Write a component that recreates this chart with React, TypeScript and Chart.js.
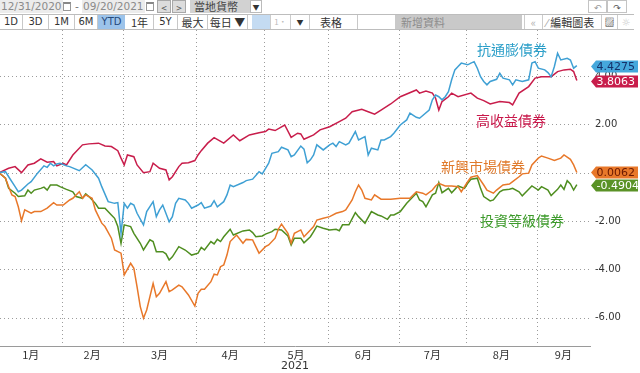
import React, { useEffect, useRef } from 'react';
import { Chart, registerables } from 'chart.js';

Chart.register(...registerables);

// ---- data (x = trading-day index since 12/31/2020, y = cumulative return %) ----
const seriesNames = ['抗通膨債券', '高收益債券', '新興市場債券', '投資等級債券'];
const monthLabels = ['1月', '2月', '3月', '4月', '5月', '6月', '7月', '8月', '9月'];
const monthStartDays = [20, 39, 62, 83, 103, 125, 146, 168];
const yTickValues = [-6, -4, -2, 0, 2, 4];

const tipsSeries: [number, number][] = [
  [0, 0], [2, 0.04], [3, -0.17], [5, -0.58], [6, -0.79], [7, -0.72], [9, -0.47], [10, -0.37], [12, -0.02], [14, 0.28],
  [15, 0.22], [16, 0.39], [17, 0.28], [18, 0.36], [19, 0.39], [21, 0.28], [22, 0.25], [25, 0.08], [27, 0.33], [29, 0.11],
  [31, -0.23], [32, -0.58], [34, -1.2], [36, -1.27], [37, -1.24], [38, -2.51], [39, -1.27], [40, -1.47], [41, -1.27], [42, -1.34],
  [43, -1.68], [45, -2.16], [46, -1.61], [48, -1.2], [49, -1.82], [50, -1.54], [51, -1.34], [53, -2.03], [54, -1.82], [55, -1.27],
  [56, -1.06], [58, -1.13], [59, -1.27], [60, -1.47], [62, -1.34], [63, -1.24], [64, -1.47], [66, -1.38], [67, -1.16], [68, -1.41],
  [70, -1.2], [71, -0.92], [72, -0.51], [73, -0.58], [76, -0.41], [77, -0.33], [79, -0.27], [81, 0.04], [82, -0.05], [84, 0.39],
  [85, 0.8], [87, 0.87], [88, 1.05], [90, 0.94], [91, 0.66], [92, 0.73], [94, 1.1], [95, 0.97], [96, 0.41], [97, 0.53],
  [98, 0.73], [99, 1.15], [101, 0.94], [103, 1.15], [104, 1.22], [105, 1.08], [106, 1.28], [108, 1.15], [109, 1.22], [111, 1.7],
  [112, 1.35], [114, 1.49], [115, 0.73], [116, 1.01], [118, 0.94], [119, 1.35], [120, 1.35], [122, 1.49], [123, 1.63], [125, 1.97],
  [127, 2.18], [128, 2.46], [130, 2.29], [131, 2.25], [134, 2.59], [135, 3.01], [136, 3.21], [137, 3.14], [138, 3.01], [139, 3.14],
  [140, 3.35], [141, 3.84], [142, 4.25], [143, 4.39], [144, 4.53], [146, 4.46], [147, 4.53], [148, 4.59], [149, 4.32], [150, 3.97],
  [151, 3.77], [152, 3.63], [153, 3.77], [155, 3.86], [156, 4.11], [157, 3.91], [159, 3.84], [160, 3.63], [161, 3.84], [163, 3.77],
  [165, 3.84], [166, 4.53], [167, 4.59], [168, 4.32], [170, 4.25], [171, 4.14], [172, 3.97], [173, 4.39], [174, 4.94], [175, 4.66],
  [177, 4.73], [178, 4.66], [179, 4.32], [180, 4.4275],
];

const highYieldSeries: [number, number][] = [
  [0, 0], [3, 0.18], [5, 0.25], [7, 0.0], [9, 0.32], [11, 0.39], [13, 0.57], [15, 0.43], [17, 0.46], [18, 0.28],
  [20, 0.39], [21, 0.32], [23, 0.73], [26, 1.15], [28, 1.19], [31, 1.22], [33, 1.1], [35, 1.08], [37, 0.91], [38, 0.6],
  [39, 0.32], [40, 0.73], [42, 0.66], [43, 0.32], [45, 0.0], [47, 0.04], [48, 0.39], [50, 0.18], [52, 0.11], [53, -0.3],
  [54, -0.17], [56, 0.25], [57, 0.39], [59, 0.41], [61, 0.5], [62, 0.73], [63, 0.91], [65, 1.22], [67, 1.45], [70, 1.22],
  [73, 1.56], [75, 1.32], [78, 1.56], [81, 1.65], [83, 1.7], [84, 1.8], [86, 1.74], [89, 1.97], [91, 1.46], [93, 1.63],
  [94, 1.6], [95, 1.38], [98, 1.56], [100, 1.77], [103, 1.9], [106, 2.11], [108, 2.25], [110, 2.52], [113, 2.62], [115, 2.52],
  [117, 2.42], [119, 2.59], [122, 2.84], [125, 3.14], [130, 3.42], [131, 3.29], [133, 3.38], [135, 3.29], [136, 3.08], [137, 2.59],
  [138, 2.94], [140, 3.14], [141, 3.29], [143, 3.14], [147, 3.29], [149, 3.08], [151, 2.98], [153, 2.84], [156, 2.94], [159, 2.9],
  [160, 2.8], [162, 3.29], [165, 3.56], [167, 3.91], [169, 3.97], [172, 3.97], [174, 4.18], [176, 4.25], [178, 4.28], [179, 4.18],
  [180, 3.8063],
];

const emergingSeries: [number, number][] = [
  [0, 0], [2, -0.23], [3, -0.58], [4, -0.92], [5, -0.99], [6, -1.41], [7, -1.99], [8, -1.54], [10, -1.68], [11, -1.61],
  [13, -1.61], [15, -1.47], [17, -1.24], [18, -1.34], [20, -1.34], [22, -1.13], [23, -1.06], [25, -0.79], [26, -1.06], [27, -0.92],
  [29, -1.06], [30, -1.54], [32, -2.09], [33, -2.23], [35, -2.71], [36, -3.2], [38, -3.33], [39, -4.23], [41, -3.75], [42, -3.96],
  [43, -4.72], [44, -5.54], [45, -6.02], [46, -5.68], [48, -4.58], [49, -5.13], [50, -4.99], [52, -4.51], [53, -4.92], [54, -4.85],
  [56, -4.65], [57, -4.72], [59, -5.06], [61, -5.52], [62, -4.99], [63, -4.82], [64, -4.82], [66, -4.51], [67, -4.2], [68, -4.23],
  [69, -3.89], [70, -3.82], [71, -3.41], [72, -2.85], [74, -2.58], [76, -2.92], [77, -2.76], [79, -2.78], [80, -3.06], [81, -3.33],
  [83, -3.06], [84, -2.99], [86, -2.71], [87, -2.34], [88, -2.13], [90, -2.51], [91, -2.92], [92, -2.51], [94, -2.37], [95, -2.65],
  [97, -2.37], [98, -2.23], [99, -1.96], [101, -1.89], [103, -1.82], [105, -1.68], [107, -1.61], [108, -1.54], [110, -1.13], [111, -0.79],
  [112, -0.51], [113, -0.72], [114, -1.06], [116, -1.13], [117, -0.92], [119, -1.1], [122, -1.1], [125, -1.06], [128, -1.06], [130, -0.79],
  [132, -0.85], [133, -0.92], [135, -0.72], [136, -0.55], [137, -0.44], [139, -0.55], [141, -0.55], [143, -0.58], [144, -0.79], [146, -0.37],
  [147, -0.19], [149, -0.12], [151, -0.51], [152, -0.72], [154, -0.85], [155, -0.72], [157, -0.51], [159, -0.47], [160, -0.37], [162, -0.17],
  [163, -0.05], [165, -0.02], [166, 0.32], [168, 0.6], [169, 0.69], [171, 0.6], [173, 0.5], [175, 0.6], [176, 0.73], [178, 0.55],
  [179, 0.32], [180, 0.0062],
];

const investmentGradeSeries: [number, number][] = [
  [0, 0], [2, -0.23], [3, -0.65], [5, -0.85], [6, -0.99], [8, -0.96], [9, -0.72], [10, -0.85], [11, -0.72], [13, -0.65],
  [14, -0.6], [15, -0.72], [16, -0.51], [18, -0.51], [19, -0.58], [21, -0.69], [23, -0.79], [24, -0.99], [26, -1.06], [27, -0.88],
  [28, -0.99], [30, -1.27], [31, -1.47], [33, -1.47], [35, -1.75], [36, -1.89], [37, -2.23], [38, -2.92], [39, -2.16], [41, -2.23],
  [42, -2.51], [44, -2.92], [45, -3.2], [47, -2.78], [48, -2.85], [49, -3.27], [51, -3.27], [52, -3.36], [53, -3.61], [54, -3.48],
  [56, -3.06], [58, -3.2], [60, -3.41], [62, -3.33], [63, -3.09], [64, -3.2], [66, -2.85], [67, -2.95], [68, -2.76], [69, -2.85],
  [70, -2.65], [72, -2.34], [73, -2.58], [76, -2.41], [78, -2.37], [79, -2.48], [80, -2.65], [82, -2.62], [83, -2.54], [85, -2.44],
  [86, -2.34], [88, -2.37], [90, -2.62], [91, -2.99], [92, -2.71], [94, -2.71], [95, -2.9], [97, -2.65], [98, -2.44], [99, -2.21],
  [101, -2.3], [103, -2.37], [105, -2.34], [106, -2.4], [107, -2.16], [109, -2.16], [111, -1.65], [112, -1.82], [114, -2.09], [116, -1.61],
  [118, -1.75], [119, -1.79], [121, -1.93], [122, -1.75], [123, -1.75], [125, -1.61], [127, -1.27], [130, -0.85], [131, -1.13], [132, -1.2],
  [133, -1.41], [135, -0.92], [136, -0.85], [137, -0.41], [138, -0.83], [140, -0.65], [141, -0.83], [143, -0.55], [145, -0.65], [146, -0.44],
  [147, -0.27], [149, -0.23], [150, -0.65], [151, -0.99], [153, -1.17], [154, -1.13], [156, -0.79], [157, -0.72], [159, -0.69], [160, -0.65],
  [162, -0.79], [163, -0.96], [165, -0.69], [166, -0.55], [168, -0.72], [169, -0.58], [171, -0.72], [172, -0.95], [174, -0.69], [175, -0.51],
  [176, -0.69], [177, -0.33], [178, -0.47], [179, -0.72], [180, -0.4904],
];

// ---- styling ----
const lineColors = ['#3fa0d4', '#c81d4b', '#e8782a', '#4f8e20'];
const labelColors = ['#2a9ec8', '#c8174a', '#e07a2b', '#3c9a2a'];
const flagFill = ['#45a8dc', '#c81d4b', '#e8782a', '#5a9226'];
const flagText = ['#16326a', '#ffffff', '#6a1800', '#ffffff'];
// label anchors in data units (trading day, value)
const labelAnchors: [number, number][] = [[159.8, 5.08], [159.5, 2.14], [150.8, 0.24], [162.9, -2.0]];

const X_MIN = 0.3;
const X_MAX = 184.1;
const Y_MIN = -7.17;
const Y_MAX = 5.9;
const GRID = '#9c9c9c';
const DOT_STEP = 4;

const boundaries = monthStartDays.map((d) => d - 0.5);
const edges = [X_MIN, ...boundaries, X_MAX];
const monthMids = monthLabels.map((_, i) => (edges[i] + edges[i + 1]) / 2);

const allSeries = [tipsSeries, highYieldSeries, emergingSeries, investmentGradeSeries];

// dotted grid (1px dots) placed from the scales' own pixel positions
const gridPlugin = {
  id: 'dottedGrid',
  beforeDatasetsDraw(chart: any) {
    const { ctx, scales, chartArea } = chart;
    const x = scales.x;
    const y = scales.y;
    ctx.save();
    ctx.fillStyle = GRID;
    yTickValues.forEach((v) => {
      const py = Math.round(y.getPixelForValue(v));
      for (let px = Math.ceil(chartArea.left); px < chartArea.right; px += DOT_STEP) {
        ctx.fillRect(px, py, 1, 1);
      }
    });
    boundaries.forEach((b) => {
      const px = Math.round(x.getPixelForValue(b));
      for (let py = Math.ceil(chartArea.top); py < chartArea.bottom; py += DOT_STEP) {
        ctx.fillRect(px, py, 1, 1);
      }
    });
    ctx.restore();
  },
};

const overlayPlugin = {
  id: 'overlay',
  afterDatasetsDraw(chart: any) {
    const { ctx, scales } = chart;
    const x = scales.x;
    const y = scales.y;
    ctx.save();
    ctx.font = '14px "Noto Sans CJK TC", sans-serif';
    ctx.textAlign = 'center';
    ctx.textBaseline = 'middle';
    seriesNames.forEach((name, i) => {
      ctx.fillStyle = labelColors[i];
      ctx.fillText(name, x.getPixelForValue(labelAnchors[i][0]), y.getPixelForValue(labelAnchors[i][1]));
    });
    ctx.restore();
  },
  afterDraw(chart: any) {
    const { ctx, scales, chartArea } = chart;
    const y = scales.y;
    ctx.save();
    ctx.font = '11px "DejaVu Sans", sans-serif';
    ctx.textBaseline = 'middle';
    ctx.textAlign = 'left';
    const order = [3, 2, 1, 0];
    order.forEach((i) => {
      const s = allSeries[i];
      const v = s[s.length - 1][1];
      const py = Math.round(y.getPixelForValue(v)) + 0.5;
      const tip = chartArea.right + 1;
      const bodyL = tip + 5;
      const bodyR = 638;
      const h = 6;
      ctx.beginPath();
      ctx.moveTo(tip, py);
      ctx.lineTo(bodyL, py - h);
      ctx.lineTo(bodyR, py - h);
      ctx.lineTo(bodyR, py + h);
      ctx.lineTo(bodyL, py + h);
      ctx.closePath();
      ctx.fillStyle = flagFill[i];
      ctx.fill();
      ctx.fillStyle = flagText[i];
      ctx.fillText(v.toFixed(4), bodyL + 0.5, py + 0.5);
    });
    ctx.restore();
  },
};

const Cell = ({ left, width, top = 15, height = 14, children, style = {} }: any) => (
  <div
    style={{
      position: 'absolute',
      left,
      top,
      width,
      height,
      lineHeight: `${height}px`,
      textAlign: 'center',
      fontSize: 11,
      color: '#333',
      whiteSpace: 'nowrap',
      overflow: 'hidden',
      boxSizing: 'border-box',
      fontFamily: '"Noto Sans CJK TC", "DejaVu Sans", sans-serif',
      ...style,
    }}
  >
    {children}
  </div>
);

const Toolbar = () => {
  const seps = [22, 48, 74, 97, 153, 177, 207, 247, 357];
  const dateStyle = { background: '#ececec', color: '#8a8a8a', fontFamily: '"DejaVu Sans", sans-serif', fontSize: 10.5, textAlign: 'left', paddingLeft: 1 };
  const btn = { background: '#dcdcdc', border: '1px solid #a8a8a8', color: '#555', fontSize: 10 };
  return (
    <div style={{ position: 'absolute', left: 0, top: 0, width: 640, height: 30 }}>
      <Cell left={0} top={0} width={63} height={13} style={dateStyle}>12/31/2020</Cell>
      <Cell left={63} top={2} width={8} height={9} style={{ border: '1px solid #999', background: '#fff', borderTop: '2px solid #888' }} />
      <Cell left={73} top={0} width={8} height={13} style={{ color: '#666' }}>-</Cell>
      <Cell left={82} top={0} width={63} height={13} style={dateStyle}>09/20/2021</Cell>
      <Cell left={146} top={2} width={8} height={9} style={{ border: '1px solid #999', background: '#fff', borderTop: '2px solid #888' }} />
      <Cell left={157} top={0} width={14} height={13} style={btn}>&lt;</Cell>
      <Cell left={172} top={0} width={14} height={13} style={btn}>&gt;</Cell>
      <Cell left={190} top={0} width={60} height={13} style={{ background: '#d2d2d2', color: '#444', textAlign: 'left', paddingLeft: 4, fontSize: 11 }}>當地貨幣</Cell>
      <Cell left={250} top={0} width={12} height={13} style={{ background: '#fff', border: '1px solid #bbb', fontSize: 7, color: '#333' }}>▼</Cell>
      <Cell left={588} top={0} width={19} height={13} style={{ border: '1px solid #c4c4c4', color: '#999', fontSize: 9 }}>↶</Cell>
      <Cell left={607} top={0} width={20} height={13} style={{ border: '1px solid #c4c4c4', color: '#555', fontSize: 9 }}>↷</Cell>

      <div style={{ position: 'absolute', left: 0, top: 14, width: 634, height: 16, borderTop: '1px solid #bdbdbd', borderBottom: '1px solid #bdbdbd', boxSizing: 'border-box', background: '#fff' }} />
      {seps.map((s) => (
        <div key={s} style={{ position: 'absolute', left: s, top: 15, width: 1, height: 14, background: '#c8c8c8' }} />
      ))}
      <Cell left={0} width={22} style={{ fontFamily: '"DejaVu Sans", sans-serif', fontSize: 10 }}>1D</Cell>
      <Cell left={23} width={25} style={{ fontFamily: '"DejaVu Sans", sans-serif', fontSize: 10 }}>3D</Cell>
      <Cell left={49} width={25} style={{ fontFamily: '"DejaVu Sans", sans-serif', fontSize: 10 }}>1M</Cell>
      <Cell left={75} width={22} style={{ fontFamily: '"DejaVu Sans", sans-serif', fontSize: 10 }}>6M</Cell>
      <Cell left={98} width={27} style={{ background: '#9cc3ea', color: '#24487a', fontFamily: '"DejaVu Sans", sans-serif', fontSize: 10 }}>YTD</Cell>
      <Cell left={126} width={27}>1年</Cell>
      <Cell left={154} width={23} style={{ fontFamily: '"DejaVu Sans", sans-serif', fontSize: 10 }}>5Y</Cell>
      <Cell left={178} width={29}>最大</Cell>
      <Cell left={208} width={39}>每日 ▼</Cell>
      <Cell left={252} width={18} style={{ background: '#c4dbf2' }} />
      <Cell left={270} width={20} style={{ borderLeft: '1px solid #ccc', color: '#bbb', fontSize: 8 }}>1·</Cell>
      <Cell left={290} width={20} style={{ borderLeft: '1px solid #ccc', borderRight: '1px solid #ccc', fontSize: 7 }}>▼</Cell>
      <Cell left={314} width={40} style={{ textAlign: 'left', paddingLeft: 6 }}>表格</Cell>
      <Cell left={395} width={127} style={{ background: '#c9c9c9', color: '#8c8c8c', textAlign: 'left', paddingLeft: 6 }}>新增資料</Cell>
      <Cell left={524} width={18} style={{ color: '#b0b0b0', borderLeft: '1px solid #ccc' }}>«</Cell>
      <Cell left={542} width={59} style={{ borderLeft: '1px solid #ccc', textAlign: 'left', paddingLeft: 3 }}><span style={{ color: '#aaa' }}>⁄ </span>編輯圖表</Cell>
      <Cell left={601} width={16} style={{ borderLeft: '1px solid #ccc', fontSize: 10 }}>▨</Cell>
      <Cell left={617} width={17} style={{ borderLeft: '1px solid #ccc', color: '#ccc', fontSize: 10 }}>☼</Cell>
    </div>
  );
};

export default function App() {
  const canvasRef = useRef<HTMLCanvasElement | null>(null);

  useEffect(() => {
    if (!canvasRef.current) return;
    const chart = new Chart(canvasRef.current, {
      type: 'line',
      data: {
        datasets: allSeries.map((s, i) => ({
          label: seriesNames[i],
          data: s.map(([d, v]) => ({ x: d, y: v })),
          borderColor: lineColors[i],
          borderWidth: 1.5,
          pointRadius: 0,
          tension: 0,
          fill: false,
        })),
      },
      options: {
        responsive: false,
        animation: false,
        events: [],
        layout: { padding: 0 },
        plugins: { legend: { display: false }, tooltip: { enabled: false } },
        scales: {
          x: {
            type: 'linear',
            min: X_MIN,
            max: X_MAX,
            afterBuildTicks: (axis: any) => {
              axis.ticks = monthMids.map((v) => ({ value: v }));
            },
            afterFit: (axis: any) => {
              axis.height = 27;
              axis.paddingLeft = 0;
              axis.paddingRight = 0;
            },
            ticks: {
              autoSkip: false,
              maxRotation: 0,
              minRotation: 0,
              padding: 2,
              color: '#333',
              font: { size: 11, family: '"Noto Sans CJK TC", sans-serif' },
              callback: (value: any) => {
                const idx = monthMids.indexOf(Number(value));
                return idx >= 0 ? monthLabels[idx] : '';
              },
            },
            grid: { display: false, drawTicks: false },
            border: { display: true, color: '#9a9a9a', width: 1 },
            title: {
              display: true,
              text: '2021',
              color: '#333',
              font: { size: 11, family: '"DejaVu Sans", sans-serif' },
              padding: { top: 0, bottom: 0 },
            },
          },
          y: {
            type: 'linear',
            position: 'right',
            min: Y_MIN,
            max: Y_MAX,
            afterBuildTicks: (axis: any) => {
              axis.ticks = yTickValues.map((v) => ({ value: v }));
            },
            afterFit: (axis: any) => {
              axis.width = 50;
              axis.paddingTop = 0;
              axis.paddingBottom = 0;
            },
            ticks: {
              padding: 5,
              color: '#333',
              font: { size: 10, family: '"DejaVu Sans", sans-serif' },
              callback: (value: any) => Number(value).toFixed(2),
            },
            grid: { display: false, drawTicks: false },
            border: { display: false },
          },
        },
      },
      plugins: [gridPlugin, overlayPlugin],
    } as any);
    return () => chart.destroy();
  }, []);

  return (
    <div style={{ position: 'relative', width: 640, height: 373, background: '#fff', overflow: 'hidden' }}>
      <style>{'body{margin:0;}'}</style>
      <Toolbar />
      <canvas ref={canvasRef} width={640} height={343} style={{ position: 'absolute', left: 0, top: 30 }} />
    </div>
  );
}
